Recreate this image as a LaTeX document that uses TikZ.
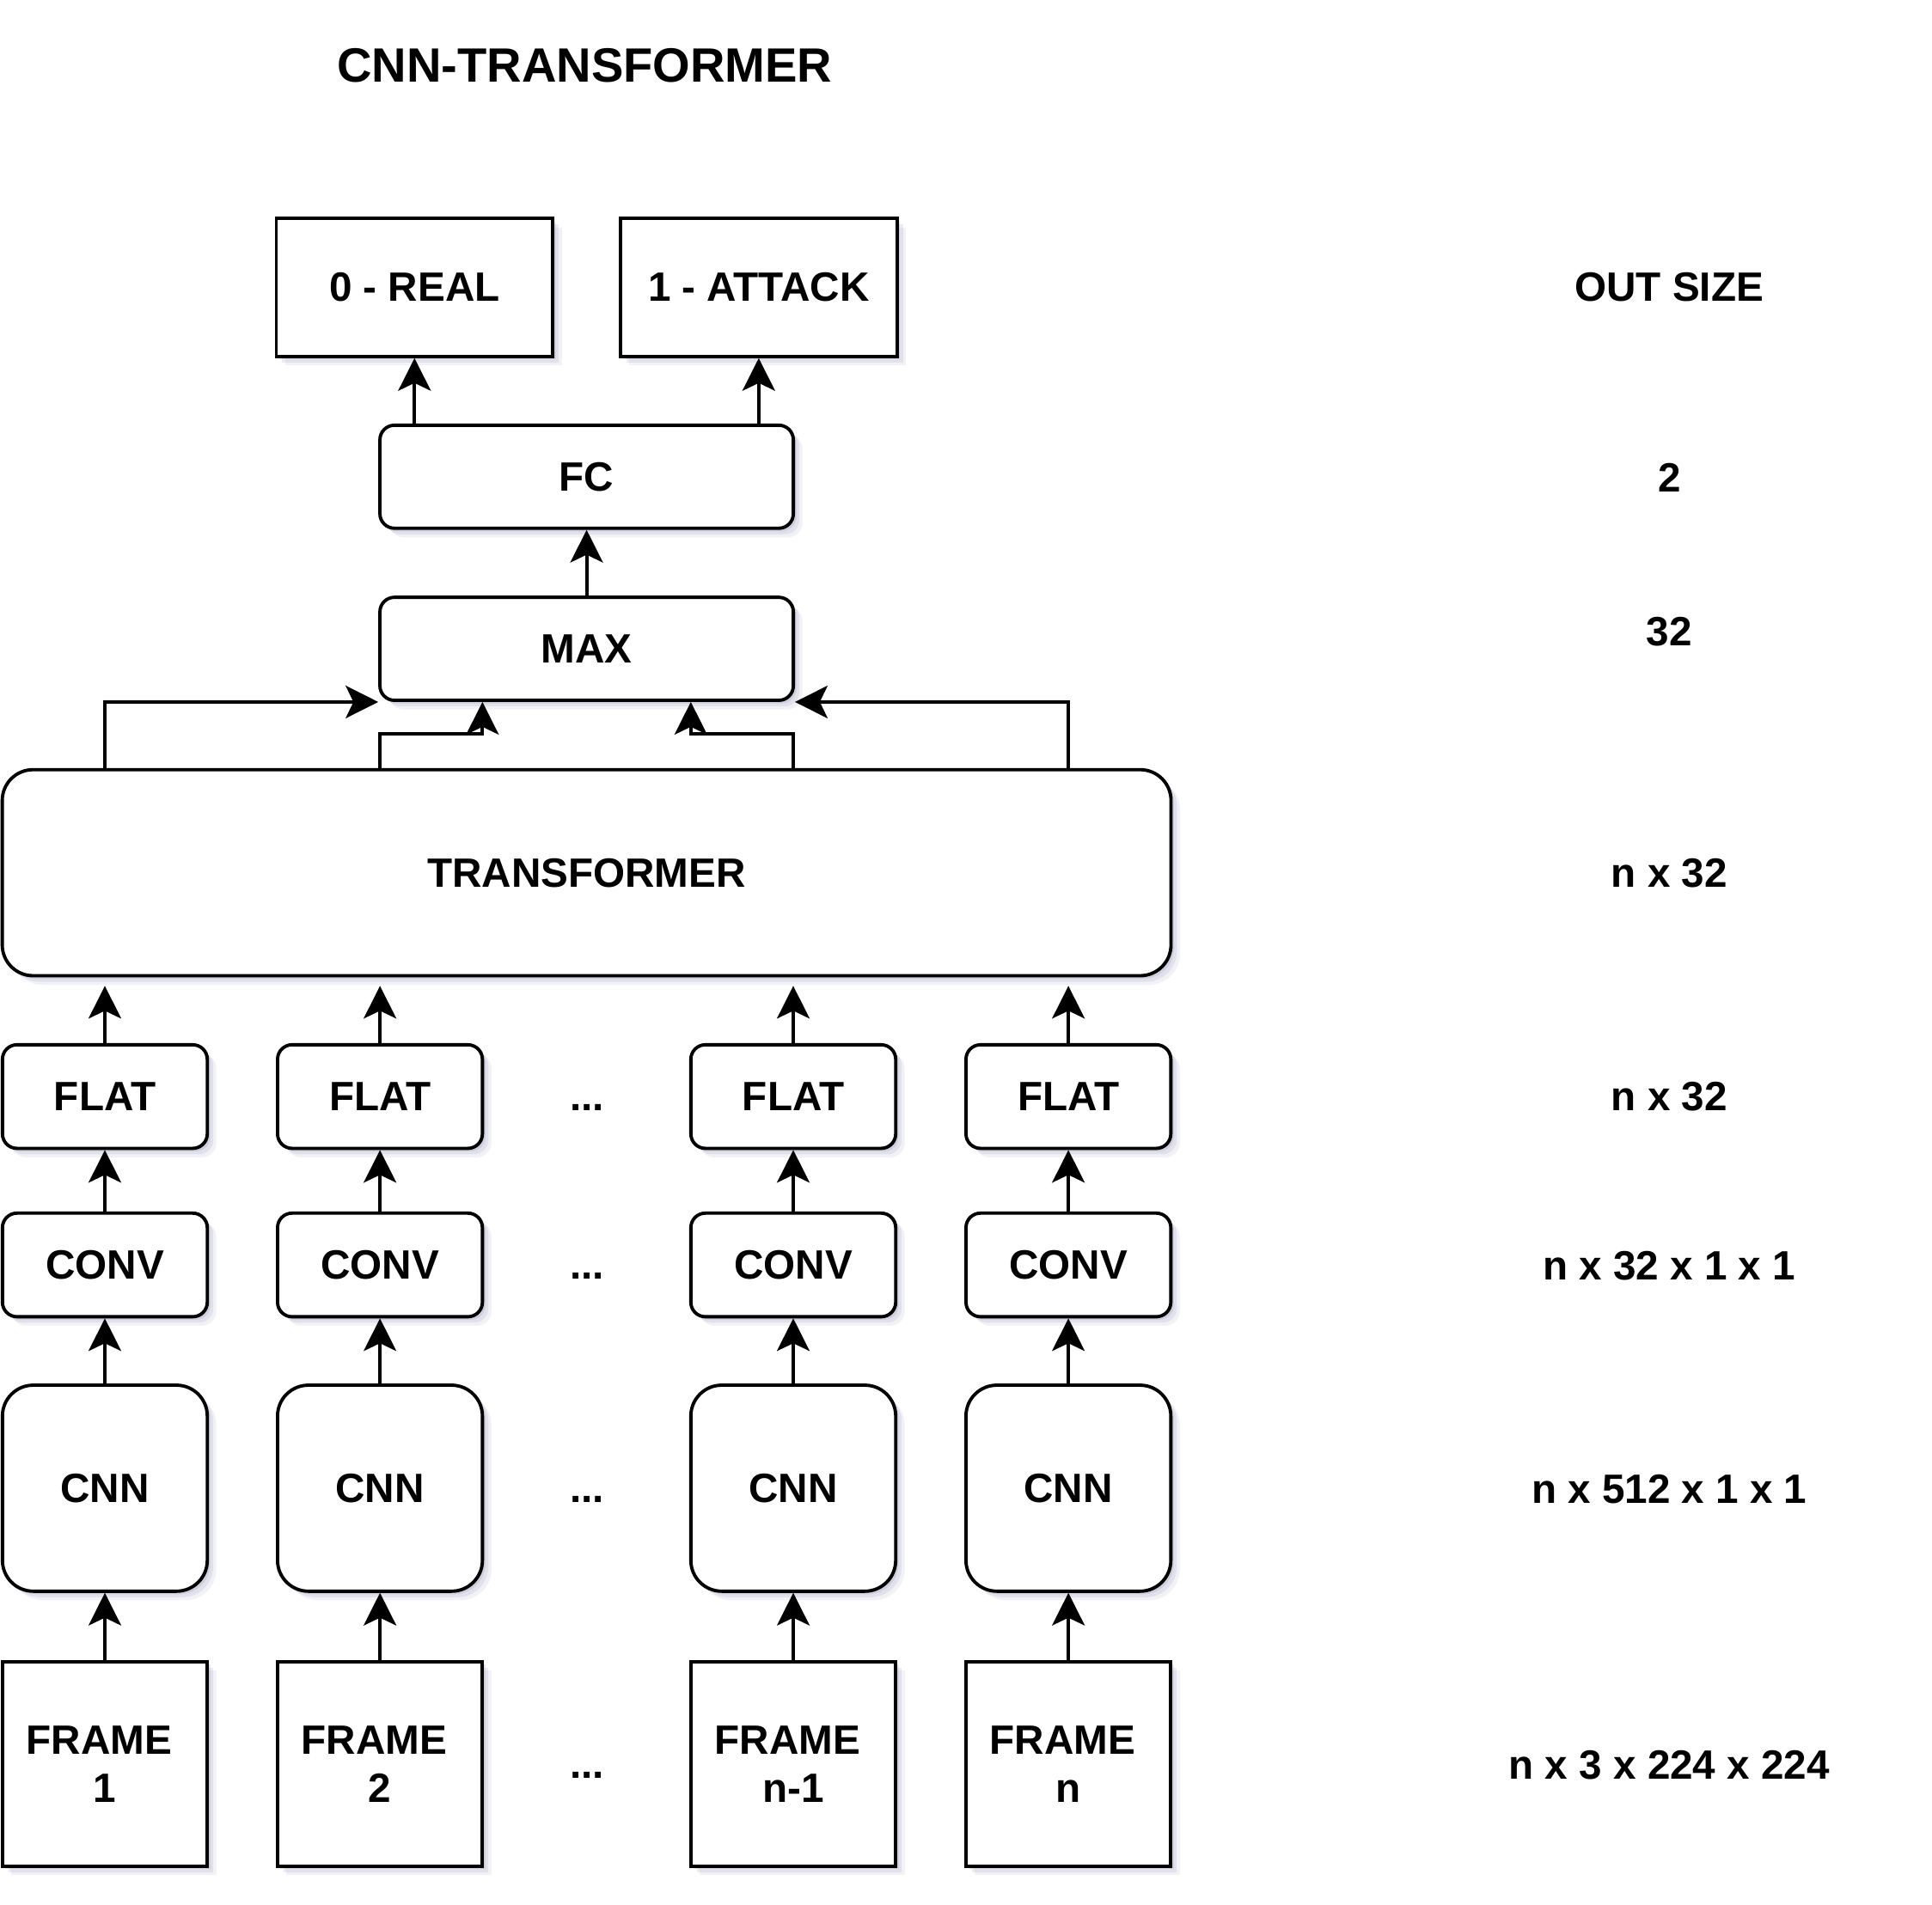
\documentclass[tikz,border=0pt]{standalone}
\usepackage{fontspec}
\setmainfont{Liberation Sans}
\usetikzlibrary{arrows.meta,shadows,calc}
\definecolor{shadowcol}{RGB}{110,110,160}
\begin{document}
\begin{tikzpicture}[x=0.01441cm, y=-0.01441cm,
  every node/.style={font=\fontsize{13.6pt}{16pt}\selectfont\bfseries, inner sep=0pt, align=center},
  shad/.style={
    general shadow={fill=shadowcol, opacity=0.17, shadow xshift=1.0pt, shadow yshift=-1.0pt},
    general shadow={fill=shadowcol, opacity=0.13, shadow xshift=2.0pt, shadow yshift=-2.0pt},
    general shadow={fill=shadowcol, opacity=0.09, shadow xshift=3.0pt, shadow yshift=-3.0pt}},
  boxbase/.style={draw, fill=white, line width=1.1pt, shad},
  outbox/.style={boxbase, minimum width=3.228cm, minimum height=1.614cm},
  widebox/.style={boxbase, rounded corners=0.17cm, minimum width=4.827cm, minimum height=1.203cm},
  transbox/.style={boxbase, rounded corners=0.36cm, minimum width=13.646cm, minimum height=2.406cm},
  smallbox/.style={boxbase, rounded corners=0.17cm, minimum width=2.392cm, minimum height=1.210cm},
  cnnbox/.style={boxbase, rounded corners=0.36cm, minimum width=2.392cm, minimum height=2.406cm},
  framebox/.style={boxbase, minimum width=2.392cm, minimum height=2.392cm},
  arr/.style={-{Stealth[length=0.38cm, width=0.38cm, inset=0.09cm]}, line width=1.1pt},
  titlestyle/.style={font=\fontsize{16pt}{19pt}\selectfont\bfseries},
  sizelabel/.style={}
]
\path[use as bounding box] (0,0) rectangle (1566,1544);

% title
\node[titlestyle] (title) at (474,53) {CNN-TRANSFORMER};

% outputs
\node[outbox] (real) at (336,233) {0 - REAL};
\node[outbox] (attack) at (615,233) {1 - ATTACK};

% FC and MAX
\node[widebox] (fc) at (475.5,386.5) {FC};
\node[widebox] (max) at (475.5,526) {MAX};

% transformer
\node[transbox] (trans) at (475.5,707.5) {TRANSFORMER};

% columns
\foreach \i/\x/\lab in {1/85/1, 2/308/2, 3/643/n-1, 4/866/n}{
  \node[smallbox] (flat\i) at (\x,889) {FLAT};
  \node[smallbox] (conv\i) at (\x,1025.5) {CONV};
  \node[cnnbox] (cnn\i) at (\x,1206.5) {CNN};
  \node[framebox] (frame\i) at (\x,1430) {FRAME\hspace*{0.278em}\\\lab};
}

% dots
\node (d1) at (476,889) {\vphantom{A}...};
\node (d2) at (476,1025.5) {\vphantom{A}...};
\node (d3) at (476,1206.5) {\vphantom{A}...};
\node (d4) at (476,1430) {\vphantom{A}...};

% out size column
\node[sizelabel] (o0) at (1353,233) {OUT SIZE};
\node[sizelabel] (o1) at (1353,387) {2};
\node[sizelabel] (o2) at (1353,512) {32};
\node[sizelabel] (o3) at (1353,708) {n x 32};
\node[sizelabel] (o4) at (1353,889) {n x 32};
\node[sizelabel] (o5) at (1353,1026) {n x 32 x 1 x 1};
\node[sizelabel] (o6) at (1353,1207) {n x 512 x 1 x 1};
\node[sizelabel] (o7) at (1353,1431) {n x 3 x 224 x 224};

% connectors top
\draw[arr] (fc.north -| real) -- (real.south);
\draw[arr] (fc.north -| attack) -- (attack.south);
\draw[arr] (max) -- (fc);

\coordinate (m1) at ($(max.south west)!0.25!(max.south east)$);
\coordinate (m2) at ($(max.south west)!0.75!(max.south east)$);
\draw[arr] (flat1 |- trans.north) |- (max.south west);
\draw[arr] (flat2 |- trans.north) -- ++(0,-28) -| (m1);
\draw[arr] (flat3 |- trans.north) -- ++(0,-28) -| (m2);
\draw[arr] (flat4 |- trans.north) |- (max.south east);

% columns connectors
\foreach \i in {1,2,3,4}{
  \draw[arr, shorten >=0.1cm] (flat\i) -- (flat\i |- trans.south);
  \draw[arr] (conv\i) -- (flat\i);
  \draw[arr] (cnn\i) -- (conv\i);
  \draw[arr] (frame\i) -- (cnn\i);
}
\end{tikzpicture}
\end{document}
